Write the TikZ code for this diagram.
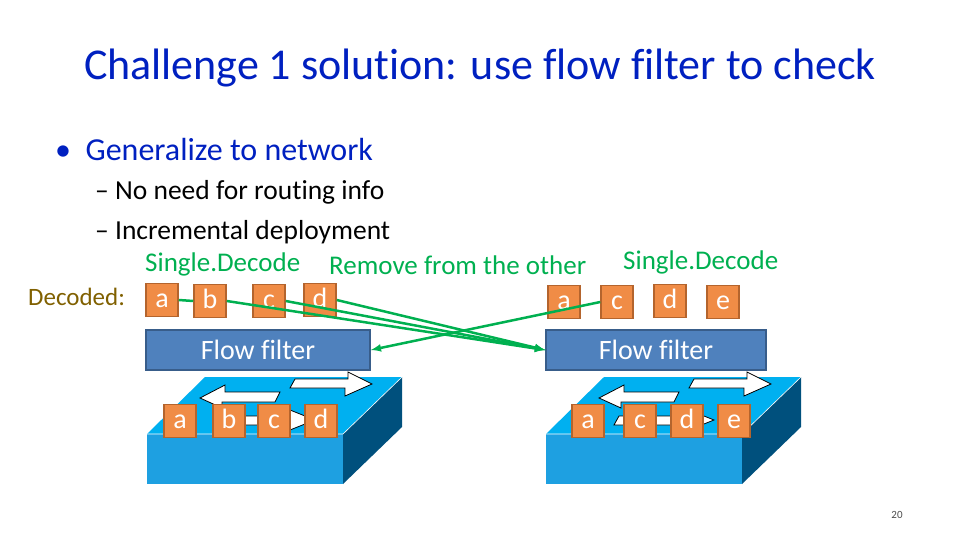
\documentclass[tikz,border=0pt]{standalone}
\usepackage{fontspec}
\setmainfont[RawFeature={-liga}]{Carlito}
\usetikzlibrary{arrows}
\definecolor{titleblue}{RGB}{0,32,192}
\definecolor{labgreen}{RGB}{0,176,80}
\definecolor{olive}{RGB}{128,96,0}
\definecolor{boxorange}{RGB}{240,140,70}
\definecolor{boxedge}{RGB}{180,100,45}
\definecolor{filterblue}{RGB}{79,129,189}
\definecolor{filteredge}{RGB}{56,93,138}
\definecolor{swtop}{RGB}{0,176,240}
\definecolor{swfront}{RGB}{30,160,225}
\definecolor{swside}{RGB}{0,80,125}
\tikzset{
  pkt/.style={draw=boxedge, line width=1.5pt, fill=boxorange, text=white, minimum width=32pt, minimum height=33pt, inner sep=0pt, text height=17pt, text depth=2pt, font=\fontsize{28}{28}\selectfont},
  filt/.style={draw=filteredge, line width=1.5pt, fill=filterblue, text=white, minimum height=40pt, inner sep=0pt, font=\fontsize{28}{28}\selectfont},
  link/.style={draw=labgreen, line width=2.5pt},
  txt/.style={anchor=west, inner sep=0pt, font=\fontsize{#1}{#1}\selectfont},
}
\begin{document}
\begin{tikzpicture}[x=1pt,y=-1pt]
\useasboundingbox (0,0) rectangle (960,540);
% title and bullets
\node[text=titleblue, font=\fontsize{44}{44}\selectfont] (title) at (480,68) {Challenge 1 solution: use flow filter to check};
\node[txt=32, text=titleblue] (b1) at (55,150) {\textbullet\ \ Generalize to network};
\node[txt=27.5] (s1) at (95,192) {-- No need for routing info};
\node[txt=27.5] (s2) at (95,232) {-- Incremental deployment};
\node[txt=27, text=labgreen] (sd1) at (145,264) {Single.Decode};
\node[txt=27, text=labgreen] (rm) at (329,265) {Remove from the other};
\node[txt=27, text=labgreen] (sd2) at (623,262) {Single.Decode};
\node[txt=25, text=olive] (dec) at (28,297) {Decoded:};
% switches
\foreach \dx/\nm in {0/swl, 399/swr}{
  \begin{scope}[xshift=\dx]
    \fill[swtop] (147,434) -- (205,377) -- (402,377) -- (343,434) -- cycle;
    \fill[swfront] (147,434) rectangle (343,484);
    \fill[swside] (343,434) -- (402,377) -- (402,427) -- (343,484) -- cycle;
    \draw[white, line width=0.6pt] (147,434) -- (343,434) -- (402,377);
    \draw[black, line width=0.8pt, fill=white] (200,398) -- (225,385) -- (225,392) -- (280,392) -- (275,402) -- (222,402) -- (222,408) -- cycle;
    \draw[black, line width=0.8pt, fill=white] (290,388) -- (295,379) -- (348,379) -- (348,372) -- (372,384) -- (345,396) -- (345,388) -- cycle;
    \draw[black, line width=0.8pt, fill=white] (215,425) -- (220,416) -- (290,416) -- (290,410) -- (315,420) -- (290,430) -- (290,425) -- cycle;
  \end{scope}
}
% filters
\node[filt, minimum width=224pt] (fl) at (258,350) {Flow filter};
\node[filt, minimum width=220pt] (fr) at (656,350) {Flow filter};
% decoded packets
\node[pkt] (la) at (162,300) {a};
\node[pkt] (lb) at (210,301) {b};
\node[pkt] (lc) at (269,301) {c};
\node[pkt] (ld) at (320,300) {d};
\node[pkt] (ra) at (564,302) {a};
\node[pkt] (rc) at (617,302) {c};
\node[pkt] (rd) at (670,301) {d};
\node[pkt] (re) at (723,302) {e};
% packets in switches
\node[pkt] (qa) at (180,421) {a};
\node[pkt] (qb) at (229,421) {b};
\node[pkt] (qc) at (274,421) {c};
\node[pkt] (qd) at (321,421) {d};
\node[pkt] (ta) at (588,421) {a};
\node[pkt] (tc) at (640,421) {c};
\node[pkt] (td) at (687,421) {d};
\node[pkt] (te) at (734,421) {e};
% links
\draw[link] (la.east) -- (lb.west);
\draw[link, -latex] (lb.east) -- (fr.west);
\draw[link, -latex] (lc.east) -- (fr.west);
\draw[link, -latex] (ld.east) -- (fr.west);
\draw[link, -latex] (rc.west) -- (fl.east);
\node[font=\fontsize{11}{11}\selectfont, text=black!70] (pg) at (897,515) {20};
\end{tikzpicture}
\end{document}
